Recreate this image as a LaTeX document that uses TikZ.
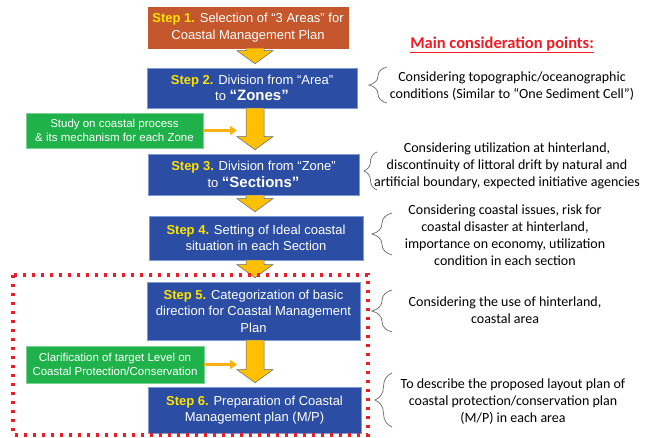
\documentclass[tikz,border=0pt]{standalone}
\usepackage{fontspec}
\setmainfont{Liberation Sans}
\newfontfamily\notefont{Carlito}
\usetikzlibrary{arrows.meta,positioning,calc,decorations.pathreplacing}
\definecolor{cmbrown}{HTML}{C4572B}
\definecolor{cmblue}{HTML}{2B4DA3}
\definecolor{cmedge}{HTML}{7F98D6}
\definecolor{cmgreen}{HTML}{1FB24B}
\definecolor{cmyellow}{HTML}{FFE100}
\definecolor{cmgold}{HTML}{FFC000}
\definecolor{cmgoldline}{HTML}{5A6580}
\definecolor{cmorange}{HTML}{F7B316}
\definecolor{cmred}{HTML}{EE1C25}
\definecolor{cmgray}{HTML}{6A6A6A}
\tikzset{
  stepbox/.style={fill=cmblue, draw=cmedge, line width=0.6pt, text=white,
    align=center, font=\fontsize{13}{16.5}\selectfont, inner sep=1pt},
  studybox/.style={fill=cmgreen, draw=cmgreen!60!white, line width=0.6pt, text=white,
    align=center, font=\fontsize{11.5}{14.5}\selectfont, inner sep=1pt},
  note/.style={align=center, font=\notefont\fontsize{14}{17}\selectfont, inner sep=0pt},
  flowarrow/.style={fill=cmgold, draw=cmgoldline, line width=0.5pt, line join=miter},
  sidearrow/.style={-{Triangle[length=7pt,width=9pt]}, cmorange, line width=2.6pt},
  bracket/.style={draw=cmgray, line width=0.7pt, decorate,
    decoration={brace, amplitude=#1}},
}
\newcommand{\steplabel}[1]{\textbf{\color{cmyellow}#1}}
\newcommand{\flowarrow}[2]{%
  \filldraw[flowarrow] let \p1=(#1.south), \p2=(#2.north) in
    (246pt,\y1) -- (246pt,\y2+17pt) -- (237pt,\y2+17pt) -- (255pt,\y2+4pt)
    -- (273pt,\y2+17pt) -- (264pt,\y2+17pt) -- (264pt,\y1);}

\begin{document}
\begin{tikzpicture}[x=1pt, y=-1pt]
  \useasboundingbox[fill=white] (0,0) rectangle (655,438);

  % steps
  \node[stepbox, fill=cmbrown, draw=cmbrown, minimum width=200pt, minimum height=41pt]
    (s1) at (248,27.5) {\steplabel{Step 1.} Selection of “3 Areas” for\\Coastal Management Plan};
  \node[stepbox, minimum width=210pt, minimum height=40pt]
    (s2) at (252,88) {\steplabel{Step 2.} Division from “Area”\\to \textbf{\fontsize{15}{16.5}\selectfont “Zones”}};
  \node[stepbox, minimum width=211pt, minimum height=41pt]
    (s3) at (253.5,174.5) {\steplabel{Step 3.} Division from “Zone”\\to \textbf{\fontsize{15}{16.5}\selectfont “Sections”}};
  \node[stepbox, minimum width=214pt, minimum height=44pt]
    (s4) at (256,238) {\steplabel{Step 4.} Setting of Ideal coastal\\situation in each Section};
  \node[stepbox, minimum width=213pt, minimum height=58pt]
    (s5) at (253.5,311) {\steplabel{Step 5.} Categorization of basic\\direction for Coastal Management\\Plan};
  \node[stepbox, minimum width=213pt, minimum height=46pt]
    (s6) at (254.5,410) {\steplabel{Step 6.} Preparation of Coastal\\Management plan (M/P)};

  \flowarrow{s1}{s2}
  \flowarrow{s2}{s3}
  \flowarrow{s3}{s4}
  \flowarrow{s4}{s5}
  \flowarrow{s5}{s6}

  % studies feeding in
  \node[studybox, minimum width=177pt, minimum height=35pt]
    (g1) at (114.5,130.5) {Study on coastal process\\\& its mechanism for each Zone};
  \node[studybox, minimum width=178pt, minimum height=37pt]
    (g2) at (115,364.5) {Clarification of target Level on\\Coastal Protection/Conservation};
  \coordinate (g1tip) at (237,130.5);
  \coordinate (g2tip) at (237,364.5);
  \draw[sidearrow] (g1.east) -- (g1tip);
  \draw[sidearrow] (g2.east) -- (g2tip);

  \draw[cmred, line width=3.4pt, dash pattern=on 3.4pt off 5.6pt]
    (13,275) rectangle (368,435);

  % consideration points
  \node[note, text=cmred, font=\notefont\bfseries\fontsize{16.5}{19}\selectfont]
    (title) at (502,45) {\underline{Main consideration points:}};
  \node[note] (c1) at (512,86.5)
    {Considering topographic/oceanographic\\conditions (Similar to “One Sediment Cell”)};
  \node[note] (c2) at (507,166)
    {Considering utilization at hinterland,\\discontinuity of littoral drift by natural and\\artificial boundary, expected initiative agencies};
  \node[note] (c3) at (505,235.5)
    {Considering coastal issues, risk for\\coastal disaster at hinterland,\\importance on economy, utilization\\condition in each section};
  \node[note] (c4) at (505,310)
    {Considering the use of hinterland,\\coastal area};
  \node[note] (c5) at (513,402)
    {To describe the proposed layout plan of\\coastal protection/conservation plan\\(M/P) in each area};

  \draw[bracket=18pt] (387,103) -- (387,67);
  \draw[bracket=13pt] (377,190) -- (377,152);
  \draw[bracket=20pt] (392,255) -- (392,213);
  \draw[bracket=20pt] (392,332) -- (392,290);
  \draw[bracket=17pt] (392,427) -- (392,373);
\end{tikzpicture}
\end{document}
